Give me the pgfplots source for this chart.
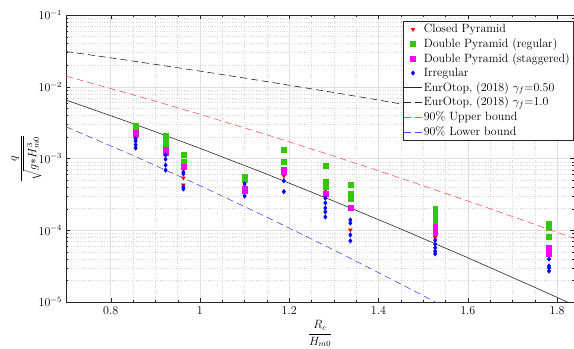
\documentclass[12pt,border=0pt]{standalone}
\usepackage{pgfplots}
\pgfplotsset{compat=1.18}
\definecolor{dpgreen}{rgb}{0.2,0.78,0}
\definecolor{mag}{rgb}{1,0,1}
\definecolor{axgray}{rgb}{0.15,0.15,0.15}
\definecolor{ubred}{rgb}{1,0.35,0.35}
\definecolor{lbblue}{rgb}{0.3,0.3,1}
\begin{document}
\begin{tikzpicture}
\begin{axis}[
  name=ax,
  scale only axis,
  width=508pt, height=287pt,
  xmin=0.7, xmax=1.838,
  ymin=1e-5, ymax=1e-1,
  ymode=log,
  xtick={0.8,1,1.2,1.4,1.6,1.8},
  xticklabels={0.8,1,1.2,1.4,1.6,1.8},
  minor x tick num=3,
  grid=both,
  major grid style={gray!25, solid},
  minor grid style={gray!30, dotted},
  axis line style={axgray},
  tick style={axgray},
  major tick length=4pt,
  minor tick length=2pt,
  tick align=inside,
  xlabel={$\displaystyle\frac{R_c}{H_{m0}}$},
  ylabel={$\displaystyle\frac{q}{\sqrt{g{*}H_{m0}^3}}$},
  xlabel style={yshift=2pt},
  ylabel style={yshift=-11pt},
  legend style={at={(1,1)}, anchor=north east, xshift=-1pt, yshift=-6pt, draw=axgray, fill=white, inner sep=1pt, row sep=0pt},
  legend cell align=left,
  clip=true,
]
\addplot[only marks, mark=triangle*, mark options={rotate=180}, mark size=2.2pt, color=red] coordinates {
(0.856,0.0021) (0.856,0.0019)
(0.923,0.00136)
(0.963,0.000535) (0.963,0.000427)
(1.100,0.000364)
(1.188,0.00057)
(1.281,0.000364)
(1.337,0.000101)
(1.527,0.000083) (1.527,0.000079)
(1.782,0.000051)
};
\addlegendentry{Closed Pyramid}
\addplot[only marks, mark=square*, mark size=2.4pt, color=dpgreen] coordinates {
(0.856,0.0029) (0.856,0.0027) (0.856,0.0025)
(0.923,0.00206) (0.923,0.00181) (0.923,0.00164) (0.923,0.00149)
(0.963,0.00112) (0.963,0.00090)
(1.100,0.000552) (1.100,0.000501)
(1.188,0.00131) (1.188,0.00090)
(1.281,0.00079) (1.281,0.00047) (1.281,0.000441) (1.281,0.000401)
(1.337,0.000427) (1.337,0.00032) (1.337,0.000273)
(1.527,0.000198) (1.527,0.000174) (1.527,0.000153) (1.527,0.000135) (1.527,0.000122)
(1.782,0.000122) (1.782,0.000107) (1.782,0.0000805)
};
\addlegendentry{Double Pyramid (regular)}
\addplot[only marks, mark=square*, mark size=2.4pt, color=mag] coordinates {
(0.856,0.0023) (0.856,0.0022)
(0.923,0.00131) (0.923,0.00119)
(0.963,0.00076)
(1.100,0.000376) (1.100,0.000352)
(1.188,0.00069) (1.188,0.00065)
(1.281,0.00032)
(1.337,0.000204)
(1.527,0.000111) (1.527,0.000101) (1.527,0.000092)
(1.782,0.0000566) (1.782,0.000051) (1.782,0.000047)
};
\addlegendentry{Double Pyramid (staggered)}
\addplot[only marks, mark=diamond*, mark size=2.3pt, color=blue] coordinates {
(0.856,0.0019) (0.856,0.00175) (0.856,0.00155) (0.856,0.0014)
(0.923,0.00112) (0.923,0.00098) (0.923,0.00081) (0.923,0.00069)
(0.963,0.00065) (0.963,0.00061) (0.963,0.000401) (0.963,0.000376)
(1.100,0.000441) (1.100,0.000300)
(1.188,0.00049) (1.188,0.000345)
(1.281,0.000281) (1.281,0.000240) (1.281,0.000204) (1.281,0.000180) (1.281,0.000153)
(1.337,0.000139) (1.337,0.000126) (1.337,0.000086) (1.337,0.000071)
(1.527,0.000073) (1.527,0.000064) (1.527,0.000057) (1.527,0.000051) (1.527,0.000047)
(1.782,0.0000397) (1.782,0.0000318) (1.782,0.0000297) (1.782,0.000027)
};
\addlegendentry{Irregular}
\addplot[no marks, color=axgray, line width=0.6pt] coordinates {
(0.7,0.006527) (0.85,0.003073) (1.0,0.001389) (1.15,0.0006049) (1.3,0.0002549)
(1.45,0.00010416) (1.6,0.00004139) (1.75,0.000016014) (1.84,0.000008954)
};
\addlegendentry{EurOtop, (2018) $\gamma_f$=0.50}
\addplot[no marks, color=axgray, line width=0.6pt, dash pattern=on 7pt off 4pt] coordinates {
(0.7,0.031010) (0.85,0.022838) (1.0,0.016541) (1.15,0.011802) (1.3,0.008309)
(1.45,0.0057768) (1.6,0.0039712) (1.75,0.0027005) (1.84,0.0021325)
};
\addlegendentry{EurOtop, (2018) $\gamma_f$=1.0}
\addplot[no marks, color=ubred, line width=0.6pt, dash pattern=on 7pt off 4pt] coordinates {
(0.7,0.014067) (0.85,0.0077504) (1.0,0.0041333) (1.15,0.0021410) (1.3,0.0010804)
(1.45,0.00053205) (1.6,0.00025632) (1.75,0.00012088) (1.84,0.0000763)
};
\addlegendentry{90\% Upper bound}
\addplot[no marks, color=lbblue, line width=0.6pt, dash pattern=on 7pt off 4pt] coordinates {
(0.7,0.0027674) (0.85,0.0011049) (1.0,0.00041948) (1.15,0.00015228) (1.3,0.000053097)
(1.45,0.000017832) (1.6,0.0000057886)
};
\addlegendentry{90\% Lower bound}
\end{axis}
\pgfresetboundingbox
\path ([shift={(-66pt,-47pt)}]ax.south west) rectangle ([shift={(0pt,15pt)}]ax.north east);
\end{tikzpicture}
\end{document}
